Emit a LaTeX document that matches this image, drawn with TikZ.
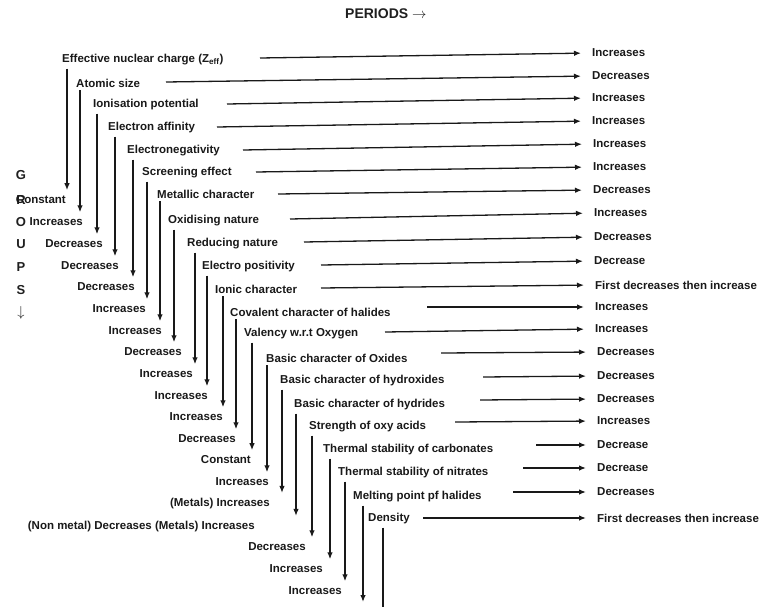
\documentclass[tikz,border=0pt]{standalone}
\usepackage{fontspec}
\setmainfont{Liberation Sans}
\usetikzlibrary{arrows.meta}
\begin{document}
\begin{tikzpicture}[x=1pt,y=-1pt,
  lbl/.style={font=\bfseries\fontsize{11.5}{12}\selectfont, inner sep=0pt, text=black!90},
  rlbl/.style={lbl, anchor=west},
  blbl/.style={lbl, anchor=east},
  grp/.style={font=\bfseries\fontsize{13}{14}\selectfont, inner sep=0pt, text=black!88},
  harrow/.style={draw=black!90, line width=1.3pt, -{Latex[length=7pt,width=5.5pt]}, shorten >=11pt},
  varrow/.style={draw=black!90, line width=1.3pt, -{Latex[length=7pt,width=5.5pt]}, shorten <=3pt, shorten >=5.5pt},
  vline/.style={draw=black!90, line width=1.3pt, shorten <=3pt},
]
\useasboundingbox (0,0) rectangle (771,607);

% heading
\node[grp, anchor=west, font=\bfseries\fontsize{14}{15}\selectfont] (per) at (345,14) {PERIODS $\rightarrow$};

% GROUPS letters
\node[grp] (gG) at (21,175) {G};
\node[grp] (gR) at (21,200) {R};
\node[grp] (gO) at (21,222) {O};
\node[grp] (gU) at (21,244) {U};
\node[grp] (gP) at (21,267) {P};
\node[grp] (gS) at (21,290) {S};
\node[grp, font=\fontsize{14}{15}\selectfont] (gA) at (21,313) {$\downarrow$};

% left (property) labels
\node[rlbl] (l1)  at (62,60)  {Effective nuclear charge (Z\textsubscript{eff})};
\node[rlbl] (l2)  at (76,83)  {Atomic size};
\node[rlbl] (l3)  at (93,105) {Ionisation potential};
\node[rlbl] (l4)  at (108,128) {Electron affinity};
\node[rlbl] (l5)  at (127,151) {Electronegativity};
\node[rlbl] (l6)  at (142,173) {Screening effect};
\node[rlbl] (l7)  at (157,194) {Metallic character};
\node[rlbl] (l8)  at (168,221) {Oxidising nature};
\node[rlbl] (l9)  at (187,244) {Reducing nature};
\node[rlbl] (l10) at (202,267) {Electro positivity};
\node[rlbl] (l11) at (215,289) {Ionic character};
\node[rlbl] (l12) at (230,312) {Covalent character of halides};
\node[rlbl] (l13) at (244,334) {Valency w.r.t Oxygen};
\node[rlbl] (l14) at (266,358) {Basic character of Oxides};
\node[rlbl] (l15) at (280,381) {Basic character of hydroxides};
\node[rlbl] (l16) at (294,405) {Basic character of hydrides};
\node[rlbl] (l17) at (309,427) {Strength of oxy acids};
\node[rlbl] (l18) at (323,450) {Thermal stability of carbonates};
\node[rlbl] (l19) at (338,473) {Thermal stability of nitrates};
\node[rlbl] (l20) at (353,497) {Melting point pf halides};
\node[rlbl] (l21) at (368,519) {Density};

% right (period trend) labels
\node[rlbl] (r1)  at (592,53)  {Increases};
\node[rlbl] (r2)  at (592,76)  {Decreases};
\node[rlbl] (r3)  at (592,98)  {Increases};
\node[rlbl] (r4)  at (592,121) {Increases};
\node[rlbl] (r5)  at (593,144) {Increases};
\node[rlbl] (r6)  at (593,167) {Increases};
\node[rlbl] (r7)  at (593,190) {Decreases};
\node[rlbl] (r8)  at (594,213) {Increases};
\node[rlbl] (r9)  at (594,237) {Decreases};
\node[rlbl] (r10) at (594,261) {Decrease};
\node[rlbl] (r11) at (595,285) {First decreases then increase};
\node[rlbl] (r12) at (595,307) {Increases};
\node[rlbl] (r13) at (595,329) {Increases};
\node[rlbl] (r14) at (597,352) {Decreases};
\node[rlbl] (r15) at (597,376) {Decreases};
\node[rlbl] (r16) at (597,399) {Decreases};
\node[rlbl] (r17) at (597,421) {Increases};
\node[rlbl] (r18) at (597,445) {Decrease};
\node[rlbl] (r19) at (597,468) {Decrease};
\node[rlbl] (r20) at (597,492) {Decreases};
\node[rlbl] (r21) at (597,518) {First decreases then increase};

% bottom (group trend) labels
\node[blbl] (b1)  at (66,200)  {Constant};
\node[blbl] (b2)  at (83,222)  {Increases};
\node[blbl] (b3)  at (103,244) {Decreases};
\node[blbl] (b4)  at (119,266) {Decreases};
\node[blbl] (b5)  at (135,287) {Decreases};
\node[blbl] (b6)  at (146,309) {Increases};
\node[blbl] (b7)  at (162,331) {Increases};
\node[blbl] (b8)  at (182,352) {Decreases};
\node[blbl] (b9)  at (193,374) {Increases};
\node[blbl] (b10) at (208,396) {Increases};
\node[blbl] (b11) at (223,417) {Increases};
\node[blbl] (b12) at (236,439) {Decreases};
\node[blbl] (b13) at (251,460) {Constant};
\node[blbl] (b14) at (269,482) {Increases};
\node[blbl] (b15) at (270,504) {(Metals) Increases};
\node[blbl] (b16) at (255,527) {(Non metal) Decreases (Metals) Increases};
\node[blbl] (b17) at (306,547) {Decreases};
\node[blbl] (b18) at (323,569) {Increases};
\node[blbl] (b19) at (342,591) {Increases};

% horizontal connector start points
\coordinate (s1)  at (260,58);
\coordinate (s2)  at (166,82);
\coordinate (s3)  at (227,104);
\coordinate (s4)  at (217,127);
\coordinate (s5)  at (243,150);
\coordinate (s6)  at (256,172);
\coordinate (s7)  at (278,194);
\coordinate (s8)  at (290,219);
\coordinate (s9)  at (304,242);
\coordinate (s10) at (321,265);
\coordinate (s11) at (321,288);
\coordinate (s12) at (427,307);
\coordinate (s13) at (385,332);
\coordinate (s14) at (441,353);
\coordinate (s15) at (483,377);
\coordinate (s16) at (480,400);
\coordinate (s17) at (455,422);
\coordinate (s18) at (536,445);
\coordinate (s19) at (523,468);
\coordinate (s20) at (513,492);
\coordinate (s21) at (423,518);

\foreach \i in {1,...,21}{
  \draw[harrow] (s\i) -- (r\i.west);
}

% vertical connector x positions
\coordinate (a1)  at (67,0);
\coordinate (a2)  at (80,0);
\coordinate (a3)  at (97,0);
\coordinate (a4)  at (115,0);
\coordinate (a5)  at (133,0);
\coordinate (a6)  at (147,0);
\coordinate (a7)  at (160,0);
\coordinate (a8)  at (174,0);
\coordinate (a9)  at (195,0);
\coordinate (a10) at (207,0);
\coordinate (a11) at (223,0);
\coordinate (a12) at (236,0);
\coordinate (a13) at (252,0);
\coordinate (a14) at (267,0);
\coordinate (a15) at (282,0);
\coordinate (a16) at (296,0);
\coordinate (a17) at (312,0);
\coordinate (a18) at (330,0);
\coordinate (a19) at (345,0);
\coordinate (a20) at (363,0);
\coordinate (a21) at (383,0);

\foreach \i in {1,...,19}{
  \draw[varrow] (l\i.south -| a\i) -- (b\i.north -| a\i);
}
\coordinate (e20) at (363,602);
\coordinate (e21) at (383,607);
\draw[varrow, shorten >=0pt] (l20.south -| a20) -- (e20);
\draw[vline] (l21.south -| a21) -- (e21);

\end{tikzpicture}
\end{document}
